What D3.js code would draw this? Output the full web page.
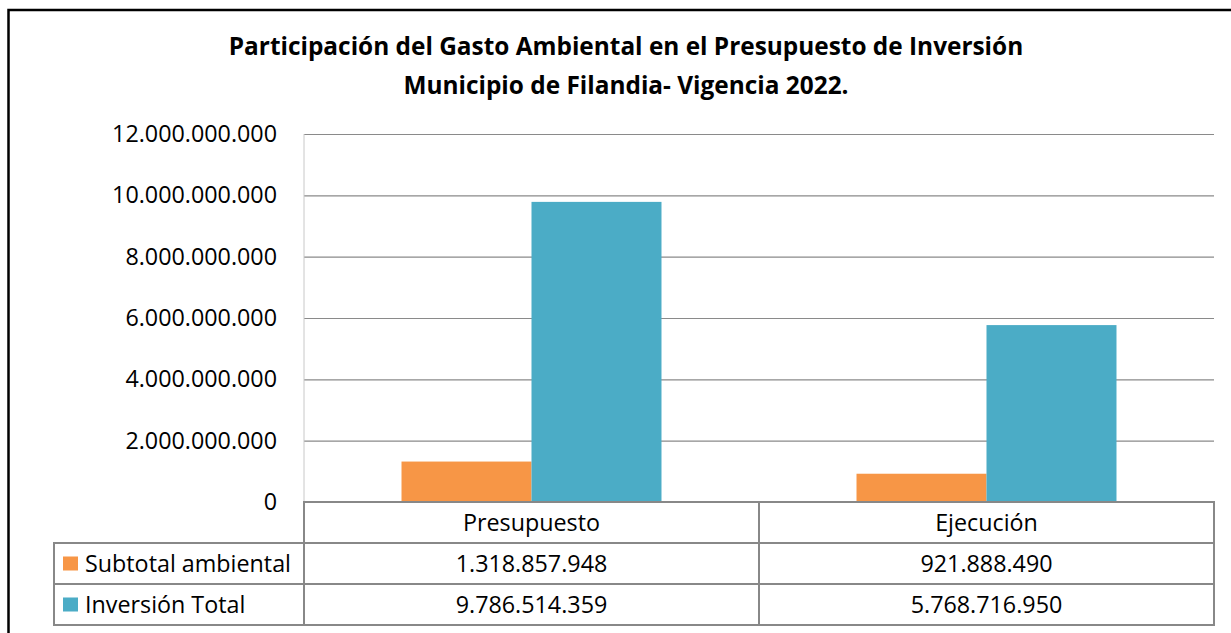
<!DOCTYPE html>
<html>
<head>
<meta charset="utf-8">
<script src="https://cdn.jsdelivr.net/npm/d3@7"></script>
<style>
  body { margin: 0; background: #fff; }
  svg { display: block; font-family: "Open Sans", Lato, sans-serif; }
</style>
</head>
<body>
<div id="chart"></div>
<script>
// data
let categories = ["Presupuesto", "Ejecución"]
let seriesNames = ["Subtotal ambiental", "Inversión Total"]
let subtotalAmbiental = [1318857948, 921888490]
let inversionTotal = [9786514359, 5768716950]
let yTicks = [0, 2000000000, 4000000000, 6000000000, 8000000000, 10000000000, 12000000000]
let titleLines = ["Participación del Gasto Ambiental en el Presupuesto de Inversión", "Municipio de Filandia- Vigencia 2022."]

let colors = ["#F79646", "#4BACC6"]
let series = [subtotalAmbiental, inversionTotal]

let width = 1231, height = 633
let plot = {left: 304, right: 1214, top: 134, bottom: 502}
let rowH = 41
let fontSize = 23.3

// thousands with dots
let fmt = d3.formatLocale({decimal: ",", thousands: ".", grouping: [3], currency: ["$", ""]}).format(",.0f")

let svg = d3.select("#chart").append("svg")
    .attr("width", width)
    .attr("height", height)

// outer frame
svg.append("rect")
    .attr("x", 8.5).attr("y", 10)
    .attr("width", 1240).attr("height", 640)
    .attr("fill", "none")
    .attr("stroke", "#000")
    .attr("stroke-width", 2.5)

// title
svg.append("g").selectAll("text")
    .data(titleLines)
    .join("text")
    .attr("x", 626)
    .attr("y", (d, i) => 55 + i * 39)
    .attr("text-anchor", "middle")
    .attr("font-weight", "bold")
    .attr("font-size", 24.4)
    .attr("fill", "#000")
    .text(d => d)

let x0 = d3.scaleBand()
    .domain(categories)
    .range([plot.left, plot.right])

let x1 = d3.scaleBand()
    .domain(seriesNames)
    .range([x0.bandwidth() * 0.2143, x0.bandwidth() * 0.7857])

let y = d3.scaleLinear()
    .domain([0, 12000000000])
    .range([plot.bottom, plot.top])

// gridlines + y labels
let yAxis = svg.append("g")
    .attr("transform", `translate(${plot.left},0)`)
    .call(d3.axisLeft(y).tickValues(yTicks).tickFormat(fmt).tickSize(-(plot.right - plot.left)).tickPadding(27))
yAxis.select(".domain").remove()
yAxis.selectAll(".tick line").attr("stroke", "#8a8a8a").attr("stroke-width", 1.2)
yAxis.selectAll(".tick text")
    .attr("font-size", fontSize)
    .attr("font-family", "'Open Sans', Lato, sans-serif")
    .attr("fill", "#000")

// light left edge of plot
svg.append("line")
    .attr("x1", plot.left).attr("x2", plot.left)
    .attr("y1", plot.top).attr("y2", plot.bottom)
    .attr("stroke", "#c8c8c8")

// bars
categories.forEach(function(cat, ci){
    seriesNames.forEach(function(s, si){
        let v = series[si][ci]
        svg.append("rect")
            .attr("x", x0(cat) + x1(s))
            .attr("y", y(v))
            .attr("width", x1.bandwidth())
            .attr("height", y(0) - y(v))
            .attr("fill", colors[si])
    })
})

// data table
let tableLeft = 54
let t = svg.append("g")
let lineColor = "#888"

function hline(x1p, x2p, yp){
    t.append("line").attr("x1", x1p).attr("x2", x2p).attr("y1", yp).attr("y2", yp)
        .attr("stroke", lineColor).attr("stroke-width", 2)
}
function vline(xp, y1p, y2p){
    t.append("line").attr("x1", xp).attr("x2", xp).attr("y1", y1p).attr("y2", y2p)
        .attr("stroke", lineColor).attr("stroke-width", 2)
}

hline(plot.left - 1, plot.right + 1, plot.bottom)
hline(tableLeft - 1, plot.right + 1, plot.bottom + rowH)
hline(tableLeft - 1, plot.right + 1, plot.bottom + rowH * 2)
hline(tableLeft - 1, plot.right + 1, plot.bottom + rowH * 3)
vline(tableLeft, plot.bottom + rowH, plot.bottom + rowH * 3)
vline(plot.left, plot.bottom, plot.bottom + rowH * 3)
categories.forEach(function(cat){
    vline(x0(cat) + x0.bandwidth(), plot.bottom, plot.bottom + rowH * 3)
})

// category header
t.selectAll(".cat")
    .data(categories)
    .join("text")
    .attr("x", d => x0(d) + x0.bandwidth() / 2)
    .attr("y", plot.bottom + rowH / 2)
    .attr("dy", "0.35em")
    .attr("text-anchor", "middle")
    .attr("font-size", fontSize)
    .text(d => d)

// series rows
seriesNames.forEach(function(s, si){
    let ry = plot.bottom + rowH * (si + 1)
    t.append("rect")
        .attr("x", 63).attr("y", ry + rowH / 2 - 7)
        .attr("width", 15).attr("height", 14)
        .attr("fill", colors[si])
    t.append("text")
        .attr("x", 85).attr("y", ry + rowH / 2)
        .attr("dy", "0.35em")
        .attr("font-size", fontSize)
        .text(s)
    categories.forEach(function(cat, ci){
        t.append("text")
            .attr("x", x0(cat) + x0.bandwidth() / 2)
            .attr("y", ry + rowH / 2)
            .attr("dy", "0.35em")
            .attr("text-anchor", "middle")
            .attr("font-size", fontSize)
            .text(fmt(series[si][ci]))
    })
})
</script>
</body>
</html>
